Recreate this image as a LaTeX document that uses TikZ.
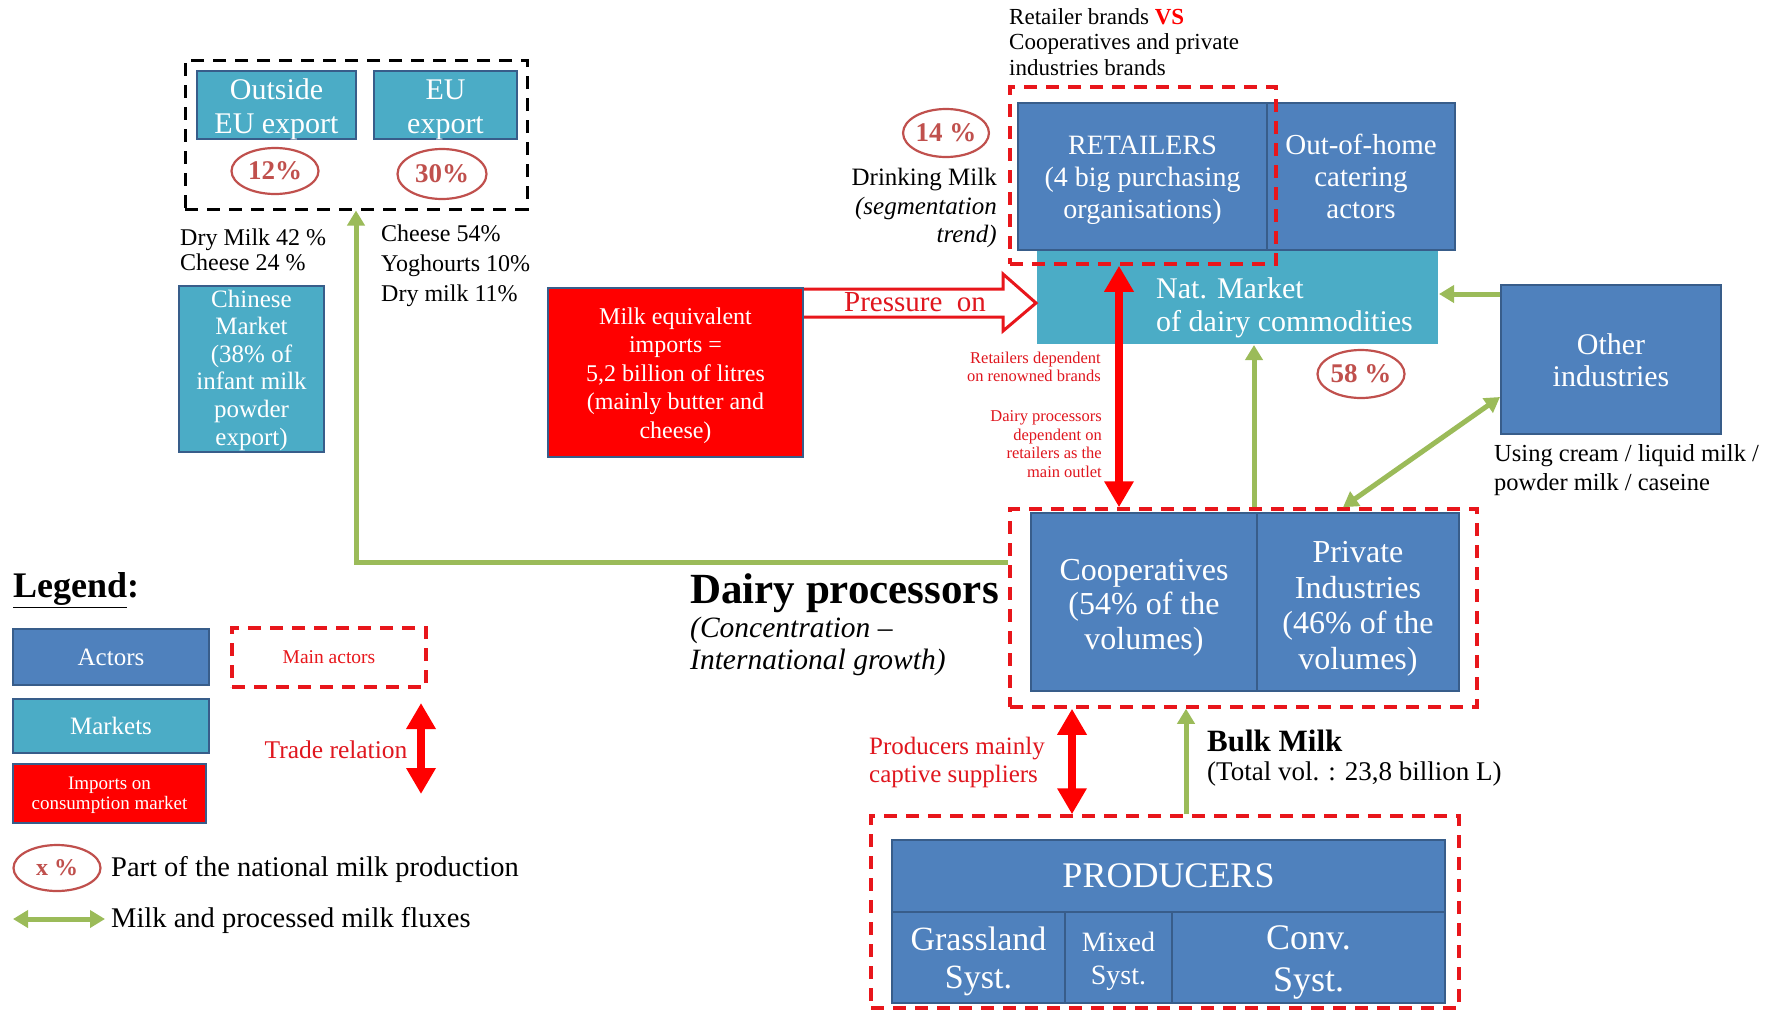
\documentclass[tikz,border=0pt]{standalone}
\usepackage{fontspec}
\setmainfont{Liberation Serif}
\usetikzlibrary{shapes.geometric,arrows.meta,calc}

\definecolor{actorblue}{HTML}{4F81BD}
\definecolor{boxedge}{HTML}{385D8A}
\definecolor{markteal}{HTML}{4BACC6}
\definecolor{importred}{HTML}{FF0000}
\definecolor{dashred}{HTML}{E8161B}
\definecolor{ellred}{HTML}{C0504D}
\definecolor{fluxgreen}{HTML}{9BBB59}
\definecolor{notered}{HTML}{E0161E}

% centred lines, drawn a little below the middle of their box
\newcommand\lowtab[2]{\raisebox{-#1pt}[\height][\depth]{\begin{tabular}{@{}c@{}}#2\end{tabular}}}

\begin{document}
\begin{tikzpicture}[x=1pt,y=-1pt,
  sz/.style 2 args={minimum width=#1,minimum height=#2},
  fs/.style 2 args={font={\fontsize{#1}{#2}\selectfont}},
  boxbase/.style={line width=2pt,text=white,align=center,inner sep=0pt},
  actor/.style={boxbase,draw=boxedge,fill=actorblue},
  market/.style={boxbase,draw=boxedge,fill=markteal},
  natbox/.style={boxbase,fill=markteal},
  importbox/.style={boxbase,draw=boxedge,fill=importred},
  reddash/.style={draw=dashred,line width=3.5pt,dash pattern=on 13pt off 9pt,inner sep=0pt},
  blackdash/.style={draw=black,line width=3pt,dash pattern=on 13pt off 9pt,inner sep=0pt},
  pct/.style={ellipse,draw=ellred,line width=2.2pt,fill=white,text=ellred,inner sep=0pt,font={\fontsize{27}{28}\selectfont\bfseries}},
  flux/.style={draw=fluxgreen,line width=5pt,-{Triangle[width=17pt,length=15pt]}},
  fluxboth/.style={draw=fluxgreen,line width=5pt,{Triangle[width=17pt,length=15pt]}-{Triangle[width=17pt,length=15pt]}},
  trade/.style={draw=red,line width=8pt,{Triangle[width=28pt,length=26pt]}-{Triangle[width=28pt,length=26pt]}},
  pressure/.style={draw=dashred,line width=3pt,fill=white,line join=miter},
  note/.style={text=notered,inner sep=0pt},
  plain/.style={inner sep=0pt}
]
\fill[white] (0,0) rectangle (1787,1012);
\useasboundingbox (0,0) rectangle (1787,1012);

% ---------- export markets ----------
\node[market,sz={159}{66},fs={30}{34}] (outeu) at (276.5,105) {\lowtab{5}{Outside\\EU export}};
\node[market,sz={143}{66},fs={30}{34}] (eu) at (445.5,105) {\lowtab{5}{EU\\export}};
\node[pct,sz={87}{46}] (p12) at (275,171) {12\%};
\node[pct,sz={89}{50}] (p30) at (442,174) {30\%};
\node[blackdash,sz={342}{149}] (exp) at (356,134.5) {};
\node[plain,anchor=west,align=left,fs={24}{25}] (exl) at (180,250) {Dry Milk 42 \%\\Cheese 24 \%};
\node[plain,anchor=west,align=left,fs={24}{30}] (exr) at (381,266) {Cheese 54\%\\Yoghourts 10\%\\Dry milk 11\%};
\node[market,sz={145}{166},fs={25}{27.6}] (chn) at (251.5,369) {\lowtab{1.5}{Chinese\\Market\\(38\% of\\infant milk\\powder\\export)}};

% ---------- imports ----------
\node[importbox,sz={255}{169},fs={24}{28.5}] (imp) at (675.5,372.5) {\lowtab{3}{Milk equivalent\\imports =\\5,2 billion of litres\\(mainly butter and\\cheese)}};

% ---------- national market and retail ----------
\node[natbox,sz={401}{93}] (nat) at (1237.5,297.5) {};
\node[plain,anchor=west,align=left,text=white,fs={30}{33}] (natt) at (1156,308) {Nat. Market\\of dairy commodities};
\node[actor,sz={249}{147},fs={28}{32}] (ret) at (1142.5,176.5) {\lowtab{4}{RETAILERS\\(4 big purchasing\\organisations)}};
\node[actor,sz={188}{147},fs={29}{32}] (ooh) at (1361,176.5) {\lowtab{4}{Out-of-home\\catering\\actors}};
\node[pct,sz={84}{48}] (p14) at (946,133) {14 \%};
\node[pct,sz={87}{48}] (p58) at (1361,374) {58 \%};
\node[actor,sz={220}{149},fs={30}{32}] (oth) at (1611,359.5) {\lowtab{5}{Other\\industries}};

% ---------- processors ----------
\node[actor,sz={226}{178},fs={32}{34.5}] (coop) at (1144,602) {\lowtab{6}{Cooperatives\\(54\% of the\\volumes)}};
\node[actor,sz={202}{178},fs={32}{35.5}] (priv) at (1358,602) {\lowtab{7}{Private\\Industries\\(46\% of the\\volumes)}};

% ---------- producers ----------
\node[actor,sz={553}{72},fs={36}{40}] (prod) at (1168.5,876) {PRODUCERS};
\node[actor,sz={173}{91},fs={34}{38}] (grass) at (978.5,957.5) {\lowtab{4}{Grassland\\Syst.}};
\node[actor,sz={107}{91},fs={28}{33}] (mixed) at (1118.5,957.5) {\lowtab{3.5}{Mixed\\Syst.}};
\node[actor,sz={273}{91},fs={36}{42}] (conv) at (1308.5,957.5) {\lowtab{5}{Conv.\\Syst.}};

% ---------- main actor frames ----------
\node[reddash,sz={266}{177}] (rdash) at (1143,175.5) {};
\node[reddash,sz={467}{198}] (dp) at (1243.5,608) {};
\node[reddash,sz={588}{192}] (pdash) at (1165,912) {};

% ---------- pressure of imports ----------
\draw[pressure] (imp.east |- 0,289) -- (1003,289) -- (1003,274) -- (nat.west |- 0,303)
  -- (1003,331) -- (1003,317) -- (imp.east |- 0,317);
\node[note,fs={29}{30}] (pon) at (915,302) {Pressure\ \ on};

% ---------- milk fluxes ----------
\draw[flux] ([yshift=46]dp.west) -| (exp.south);
\draw[flux] (oth.west |- 0,294) -- (nat.east |- 0,294);
\draw[fluxboth] (oth.west |- 0,397) -- (1343,0 |- dp.north);
\draw[flux] (1254,0 |- dp.north) -- (1254,0 |- nat.south);
\draw[flux] (1186,0 |- pdash.north) -- (1186,0 |- dp.south);

% ---------- trade relations ----------
\draw[trade] (1119,0 |- rdash.south) -- (1119,0 |- dp.north);
\draw[trade] (1072,0 |- dp.south) -- (1072,0 |- pdash.north);

% ---------- annotations ----------
\node[plain,anchor=west,align=left,fs={23}{25.5}] (rvs) at (1009,42) {Retailer brands \textbf{\color{red}VS}\\Cooperatives and private\\industries brands};
\node[plain,anchor=east,align=right,fs={25}{28.5}] (drk) at (997,208) {Drinking Milk\\\textit{(segmentation}\\\textit{trend)}};
\node[note,anchor=east,align=right,fs={16.5}{18.5}] (rdep) at (1101,367) {Retailers dependent\\on renowned brands};
\node[note,anchor=east,align=right,fs={16.5}{18.7}] (ddep) at (1102,444) {Dairy processors\\dependent on\\retailers as the\\main outlet};
\node[plain,anchor=west,align=left,fs={24.5}{29}] (usi) at (1494,470) {Using cream / liquid milk /\\powder milk / caseine};
\node[plain,anchor=west,fs={43}{46}] (dpt) at (690,593) {\textbf{Dairy processors}};
\node[plain,anchor=west,align=left,fs={29.5}{32}] (dpc) at (690,646) {\textit{(Concentration --}\\\textit{International growth)}};
\node[note,anchor=west,align=left,fs={25}{28}] (pms) at (869,762) {Producers mainly\\captive suppliers};
\node[plain,anchor=west,fs={31}{34}] (bm) at (1207,741) {\textbf{Bulk Milk}};
\node[plain,anchor=west,fs={27}{30}] (tv) at (1207,774) {(Total vol. : 23,8 billion L)};

% ---------- legend ----------
\node[plain,anchor=west,fs={36}{40}] (leg) at (13,590) {\textbf{\underline{Legend}:}};
\node[actor,sz={196}{56},fs={25}{28}] (la) at (111,657) {Actors};
\node[market,sz={196}{54},fs={25}{28}] (lm) at (111,726) {Markets};
\node[importbox,sz={193}{59},fs={19}{20}] (li) at (109.5,793.5) {\lowtab{2}{Imports on\\consumption market}};
\node[reddash,sz={194}{59},text=dashred,fs={19.5}{22}] (lma) at (329,657.5) {Main actors};
\coordinate (lt1) at (421,703);
\coordinate (lt2) at (421,794);
\draw[trade] (lt1) -- (lt2);
\node[note,fs={25.5}{28}] (ltr) at (336,750) {Trade relation};
\node[pct,sz={87}{46},font={\fontsize{24}{26}\selectfont\bfseries}] (px) at (57,868) {x \%};
\node[plain,anchor=west,fs={28.5}{30}] (lpart) at (111,869) {Part of the national milk production};
\coordinate (lg1) at (13,919);
\coordinate (lg2) at (105,919);
\draw[fluxboth] (lg1) -- (lg2);
\node[plain,anchor=west,fs={28.5}{30}] (lflux) at (111,920) {Milk and processed milk fluxes};
\end{tikzpicture}
\end{document}
